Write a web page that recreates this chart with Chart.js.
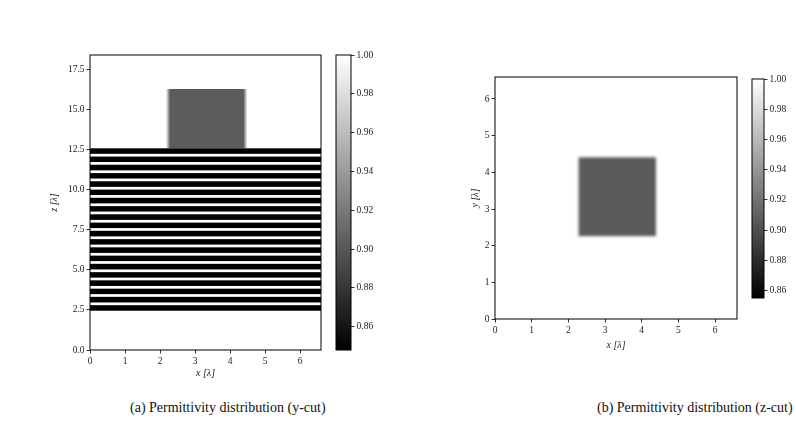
<!DOCTYPE html>
<html lang="en">
<head>
<meta charset="UTF-8">
<title>Permittivity distribution</title>
<script src="https://cdn.jsdelivr.net/npm/chart.js"></script>
<style>
  body { margin: 0; background: #fff; width: 796px; height: 433px; position: relative; overflow: hidden; font-family: "Liberation Serif", serif; }
  canvas { position: absolute; }
  .caption { position: absolute; font-size: 14px; line-height: 16px; white-space: nowrap; color: #111; }
</style>
</head>
<body>
<canvas id="cutY" width="290" height="334" style="left:40px;top:45px"></canvas>
<canvas id="barY" width="60" height="315" style="left:330px;top:45px"></canvas>
<canvas id="cutZ" width="280" height="284" style="left:465px;top:67px"></canvas>
<canvas id="barZ" width="49" height="239" style="left:747px;top:69px"></canvas>
<div class="caption" style="left:130px;top:400px">(a) Permittivity distribution (y-cut)</div>
<div class="caption" style="left:597px;top:400px">(b) Permittivity distribution (z-cut)</div>

<script>
// axis ticks
const xTicks = [0, 1, 2, 3, 4, 5, 6];
const zTicks = [0, 2.5, 5, 7.5, 10, 12.5, 15, 17.5];
const yTicks = [0, 1, 2, 3, 4, 5, 6];
const cbarTicks = [0.86, 0.88, 0.90, 0.92, 0.94, 0.96, 0.98, 1.00];

// domain extents [lambda]
const xRange = [0, 6.6];
const zRange = [0, 18.4];
const yRange = [0, 6.6];

// colour limits of the two colorbars
const cbarY = [0.848, 1.0];
const cbarZ = [0.855, 1.0];

// y-cut: layered stack (low value) with thin high-value gaps
const stackZ = [2.45, 12.58];
const stackValue = 0.848;
const gapCentres = [2.88, 3.40, 3.91, 4.43, 4.94, 5.46, 5.97, 6.49, 7.00, 7.52,
                    8.03, 8.55, 9.06, 9.58, 10.09, 10.61, 11.12, 11.64, 12.15];
const gapWidth = 0.17;
const gapValue = 1.0;

// block sitting on the stack (y-cut) and its section (z-cut)
const blockX = [2.17, 4.50];     // outer edge of the soft sides
const blockCoreX = [2.29, 4.38]; // where the full value is reached
const blockZ = [12.58, 16.28];
const blockValueY = 0.903;
const squareX = [2.28, 4.39];
const squareY = [2.26, 4.41];
const blockValueZ = 0.906;

const tickFont = { family: 'Liberation Serif', size: 9.5 };
const titleFont = { family: 'Liberation Serif', size: 10, style: 'italic' };

function grey(v, lim) {
  const g = Math.round(Math.max(0, Math.min(1, (v - lim[0]) / (lim[1] - lim[0]))) * 255);
  return `rgb(${g},${g},${g})`;
}

function fieldPlugin(draw) {
  return {
    id: 'field',
    beforeDatasetsDraw(chart) {
      const { ctx, chartArea: a, scales } = chart;
      ctx.save();
      ctx.beginPath();
      ctx.rect(a.left, a.top, a.width, a.height);
      ctx.clip();
      draw(ctx, scales.x, scales.y);
      ctx.restore();
    },
    afterDraw(chart) {
      const { ctx, chartArea: a } = chart;
      ctx.save();
      ctx.strokeStyle = '#000';
      ctx.lineWidth = 1;
      ctx.strokeRect(a.left, a.top, a.width, a.height);
      ctx.restore();
    }
  };
}

function fixedTicks(list) {
  return scale => { scale.ticks = list.map(v => ({ value: v })); };
}

function axis(range, ticks, fmt, title, size, pad) {
  return {
    type: 'linear',
    min: range[0],
    max: range[1],
    afterBuildTicks: fixedTicks(ticks),
    afterFit: s => { if (s.isHorizontal()) s.height = size; else s.width = size; },
    border: { display: false },
    grid: { display: true, drawOnChartArea: false, drawTicks: true, tickLength: 3.5, color: '#000', lineWidth: 0.8 },
    ticks: { font: tickFont, color: '#222', padding: 2, maxRotation: 0, autoSkip: false, callback: fmt },
    title: { display: true, text: title, font: titleFont, color: '#222', padding: pad }
  };
}

function rectPx(ctx, xs, ys, x0, x1, y0, y1) {
  const l = xs.getPixelForValue(x0), r = xs.getPixelForValue(x1);
  const t = ys.getPixelForValue(y1), b = ys.getPixelForValue(y0);
  ctx.fillRect(l, t, r - l, b - t);
}

function fieldChart(id, draw, xs, ys, padding) {
  return new Chart(document.getElementById(id), {
    type: 'scatter',
    data: { datasets: [] },
    options: {
      responsive: false,
      animation: false,
      layout: { padding },
      plugins: { legend: { display: false }, tooltip: { enabled: false } },
      scales: { x: xs, y: ys }
    },
    plugins: [fieldPlugin(draw)]
  });
}

function colorbar(id, lim, yWidth, padding) {
  return new Chart(document.getElementById(id), {
    type: 'scatter',
    data: { datasets: [] },
    options: {
      responsive: false,
      animation: false,
      layout: { padding },
      plugins: { legend: { display: false }, tooltip: { enabled: false } },
      scales: {
        x: { type: 'linear', display: false, min: 0, max: 1 },
        y: {
          type: 'linear',
          position: 'right',
          min: lim[0],
          max: lim[1],
          afterBuildTicks: fixedTicks(cbarTicks),
          afterFit: s => { s.width = yWidth; },
          border: { display: false },
          grid: { display: true, drawOnChartArea: false, drawTicks: true, tickLength: 3.5, color: '#000', lineWidth: 0.8 },
          ticks: { font: tickFont, color: '#222', padding: 2, autoSkip: false, callback: v => v.toFixed(2) }
        }
      }
    },
    plugins: [fieldPlugin((ctx, xs, ys) => {
      const p0 = ys.getPixelForValue(lim[0]), p1 = ys.getPixelForValue(lim[1]);
      const g = ctx.createLinearGradient(0, p0, 0, p1);
      g.addColorStop(0, grey(lim[0], lim));
      g.addColorStop(1, grey(lim[1], lim));
      ctx.fillStyle = g;
      ctx.fillRect(xs.left, p1, xs.right - xs.left, p0 - p1);
    })]
  });
}

// (a) y-cut
fieldChart('cutY', (ctx, xs, ys) => {
  ctx.fillStyle = grey(gapValue, cbarY);
  rectPx(ctx, xs, ys, xRange[0], xRange[1], zRange[0], zRange[1]);
  // block: soft only on its left/right sides
  const l = xs.getPixelForValue(blockX[0]), r = xs.getPixelForValue(blockX[1]);
  const g = ctx.createLinearGradient(l, 0, r, 0);
  const w = blockX[1] - blockX[0];
  g.addColorStop(0, grey(gapValue, cbarY));
  g.addColorStop((blockCoreX[0] - blockX[0]) / w, grey(blockValueY, cbarY));
  g.addColorStop((blockCoreX[1] - blockX[0]) / w, grey(blockValueY, cbarY));
  g.addColorStop(1, grey(gapValue, cbarY));
  ctx.fillStyle = g;
  rectPx(ctx, xs, ys, blockX[0], blockX[1], blockZ[0], blockZ[1]);
  ctx.fillStyle = grey(stackValue, cbarY);
  rectPx(ctx, xs, ys, xRange[0], xRange[1], stackZ[0], stackZ[1]);
  ctx.fillStyle = grey(gapValue, cbarY);
  gapCentres.forEach(c => rectPx(ctx, xs, ys, xRange[0], xRange[1], c - gapWidth / 2, c + gapWidth / 2));
},
  axis(xRange, xTicks, v => String(v), 'x [λ]', 29, { top: 0, bottom: 0 }),
  axis(zRange, zTicks, v => v.toFixed(1), 'z [λ]', 50, { top: 8, bottom: 0 }),
  { top: 10, right: 9, left: 0, bottom: 0 });

colorbar('barY', cbarY, 39, { top: 10, bottom: 10, left: 6, right: 0 });

// (b) z-cut
fieldChart('cutZ', (ctx, xs, ys) => {
  ctx.fillStyle = '#fff';
  rectPx(ctx, xs, ys, xRange[0], xRange[1], yRange[0], yRange[1]);
  ctx.filter = 'blur(1.8px)';
  ctx.fillStyle = grey(blockValueZ, cbarZ);
  rectPx(ctx, xs, ys, squareX[0], squareX[1], squareY[0], squareY[1]);
  ctx.filter = 'none';
},
  axis(xRange, xTicks, v => String(v), 'x [λ]', 32, { top: 0, bottom: 0 }),
  axis(yRange, yTicks, v => String(v), 'y [λ]', 30, { top: 4.6, bottom: 0 }),
  { top: 10, right: 8, left: 0, bottom: 0 });

colorbar('barZ', cbarZ, 32, { top: 10, bottom: 10, left: 5, right: 0 });
</script>
</body>
</html>
